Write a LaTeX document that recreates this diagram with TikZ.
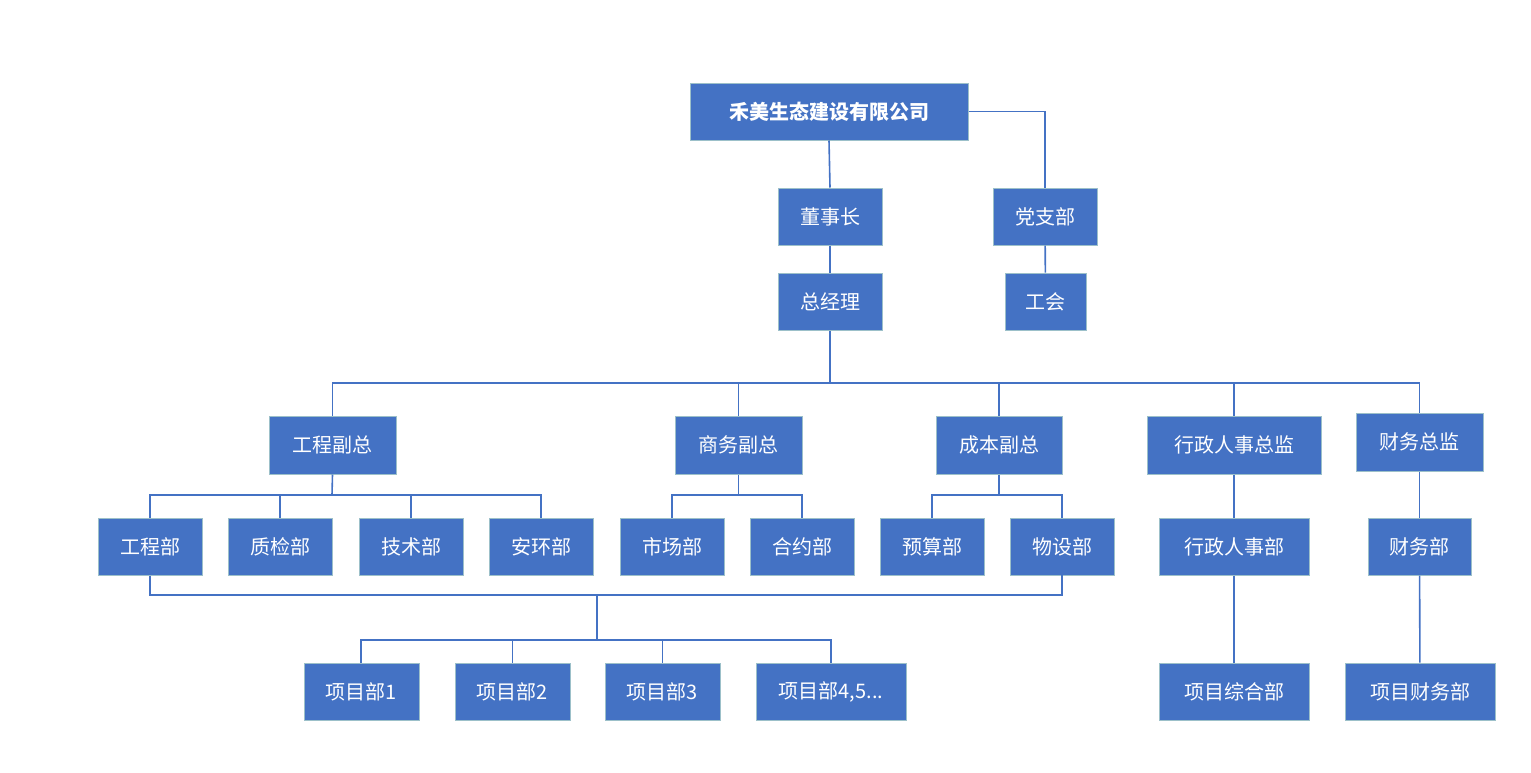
\documentclass[tikz,border=0pt]{standalone}
\usepackage{fontspec}
\setmainfont{Noto Sans CJK SC}
\begin{document}
\begin{tikzpicture}[x=1pt,y=-1pt,
  box/.style={draw=blue!20!cyan!30!gray!60, line width=1pt, fill=bx, text=white, font=\fontsize{20}{24}\selectfont, inner sep=0pt, minimum height=57pt},
  ln/.style={draw=bx, line width=1.6pt}]
\definecolor{bx}{HTML}{4472C4}
\useasboundingbox (0,0) rectangle (1531,772);
\newcommand\bx[5]{\node[box,minimum width=#3-#2,minimum height=#5-#4] (#1) at ({(#2+#3)/2},{(#4+#5)/2}) {};}
\bx{co}{690}{968}{83}{140}\node[text=white,font=\bfseries\fontsize{20}{24}\selectfont] at (co) {禾美生态建设有限公司};
\bx{dsz}{778}{882}{188}{245}\node[text=white,font=\fontsize{20}{24}\selectfont] at (dsz){董事长};
\bx{dzb}{993}{1097}{188}{245}\node[text=white,font=\fontsize{20}{24}\selectfont] at (dzb){党支部};
\bx{zjl}{778}{882}{273}{330}\node[text=white,font=\fontsize{20}{24}\selectfont] at (zjl){总经理};
\bx{gh}{1005}{1086}{273}{330}\node[text=white,font=\fontsize{20}{24}\selectfont] at (gh){工会};
\bx{gcfz}{269}{396}{416}{474}\node[text=white,font=\fontsize{20}{24}\selectfont] at (gcfz){工程副总};
\bx{swfz}{675}{802}{416}{474}\node[text=white,font=\fontsize{20}{24}\selectfont] at (swfz){商务副总};
\bx{cbfz}{936}{1062}{416}{474}\node[text=white,font=\fontsize{20}{24}\selectfont] at (cbfz){成本副总};
\bx{xzzj}{1147}{1321}{416}{474}\node[text=white,font=\fontsize{20}{24}\selectfont] at (xzzj){行政人事总监};
\bx{cwzj}{1356}{1483}{413}{471}\node[text=white,font=\fontsize{20}{24}\selectfont] at (cwzj){财务总监};
\bx{gcb}{98}{202}{518}{575}\node[text=white,font=\fontsize{20}{24}\selectfont] at (gcb){工程部};
\bx{zjb}{228}{332}{518}{575}\node[text=white,font=\fontsize{20}{24}\selectfont] at (zjb){质检部};
\bx{jsb}{359}{463}{518}{575}\node[text=white,font=\fontsize{20}{24}\selectfont] at (jsb){技术部};
\bx{ahb}{489}{593}{518}{575}\node[text=white,font=\fontsize{20}{24}\selectfont] at (ahb){安环部};
\bx{scb}{620}{724}{518}{575}\node[text=white,font=\fontsize{20}{24}\selectfont] at (scb){市场部};
\bx{hyb}{750}{854}{518}{575}\node[text=white,font=\fontsize{20}{24}\selectfont] at (hyb){合约部};
\bx{ysb}{880}{984}{518}{575}\node[text=white,font=\fontsize{20}{24}\selectfont] at (ysb){预算部};
\bx{wsb}{1010}{1114}{518}{575}\node[text=white,font=\fontsize{20}{24}\selectfont] at (wsb){物设部};
\bx{xzb}{1159}{1309}{518}{575}\node[text=white,font=\fontsize{20}{24}\selectfont] at (xzb){行政人事部};
\bx{cwb}{1368}{1471}{518}{575}\node[text=white,font=\fontsize{20}{24}\selectfont] at (cwb){财务部};
\bx{p1}{304}{419}{663}{720}\node[text=white,font=\fontsize{20}{24}\selectfont] at (p1){项目部1};
\bx{p2}{455}{570}{663}{720}\node[text=white,font=\fontsize{20}{24}\selectfont] at (p2){项目部2};
\bx{p3}{605}{720}{663}{720}\node[text=white,font=\fontsize{20}{24}\selectfont] at (p3){项目部3};
\bx{p4}{756}{906}{663}{720}\node[text=white,font=\fontsize{20}{24}\selectfont] at (p4){项目部4,5...};
\bx{xmzh}{1159}{1309}{663}{720}\node[text=white,font=\fontsize{20}{24}\selectfont] at (xmzh){项目综合部};
\bx{xmcw}{1345}{1495}{663}{720}\node[text=white,font=\fontsize{20}{24}\selectfont] at (xmcw){项目财务部};
% connectors
\draw[ln] (co.south) -- (dsz.north);
\draw[ln] (co.east) -| (dzb.north);
\draw[ln] (dsz) -- (zjl);
\draw[ln] (dzb) -- (gh);
\coordinate (b1) at (830,383);
\draw[ln] (zjl.south) -- (b1);
\draw[ln] (gcfz.north) |- (b1) -| (cwzj.north);
\draw[ln] (swfz.north) -- (swfz.north|-b1);
\draw[ln] (cbfz.north) -- (cbfz.north|-b1);
\draw[ln] (xzzj.north) -- (xzzj.north|-b1);
\coordinate (b2) at (332,495);
\draw[ln] (gcfz.south) -- (b2);
\draw[ln] (gcb.north) |- (b2) -| (ahb.north);
\draw[ln] (zjb.north) -- (zjb.north|-b2);
\draw[ln] (jsb.north) -- (jsb.north|-b2);
\coordinate (b3) at (738.5,495);
\draw[ln] (swfz.south) -- (b3);
\draw[ln] (672,518) |- (b3) -| (802,518);
\coordinate (b4) at (999,495);
\draw[ln] (cbfz.south) -- (b4);
\draw[ln] (932,518) |- (b4) -| (1062,518);
\draw[ln] (xzzj) -- (xzb);
\draw[ln] (cwzj) -- (cwb);
\draw[ln] (xzb) -- (xmzh);
\draw[ln] (cwb) -- (xmcw);
\coordinate (b5) at (597,595);
\draw[ln] (gcb.south) |- (b5) -| (1062,575);
\coordinate (b6) at (597,640);
\draw[ln] (b5) -- (b6);
\draw[ln] (361,663) |- (b6) -| (831,663);
\draw[ln] (p2.north) -- (p2.north|-b6);
\draw[ln] (p3.north) -- (p3.north|-b6);
\end{tikzpicture}
\end{document}
